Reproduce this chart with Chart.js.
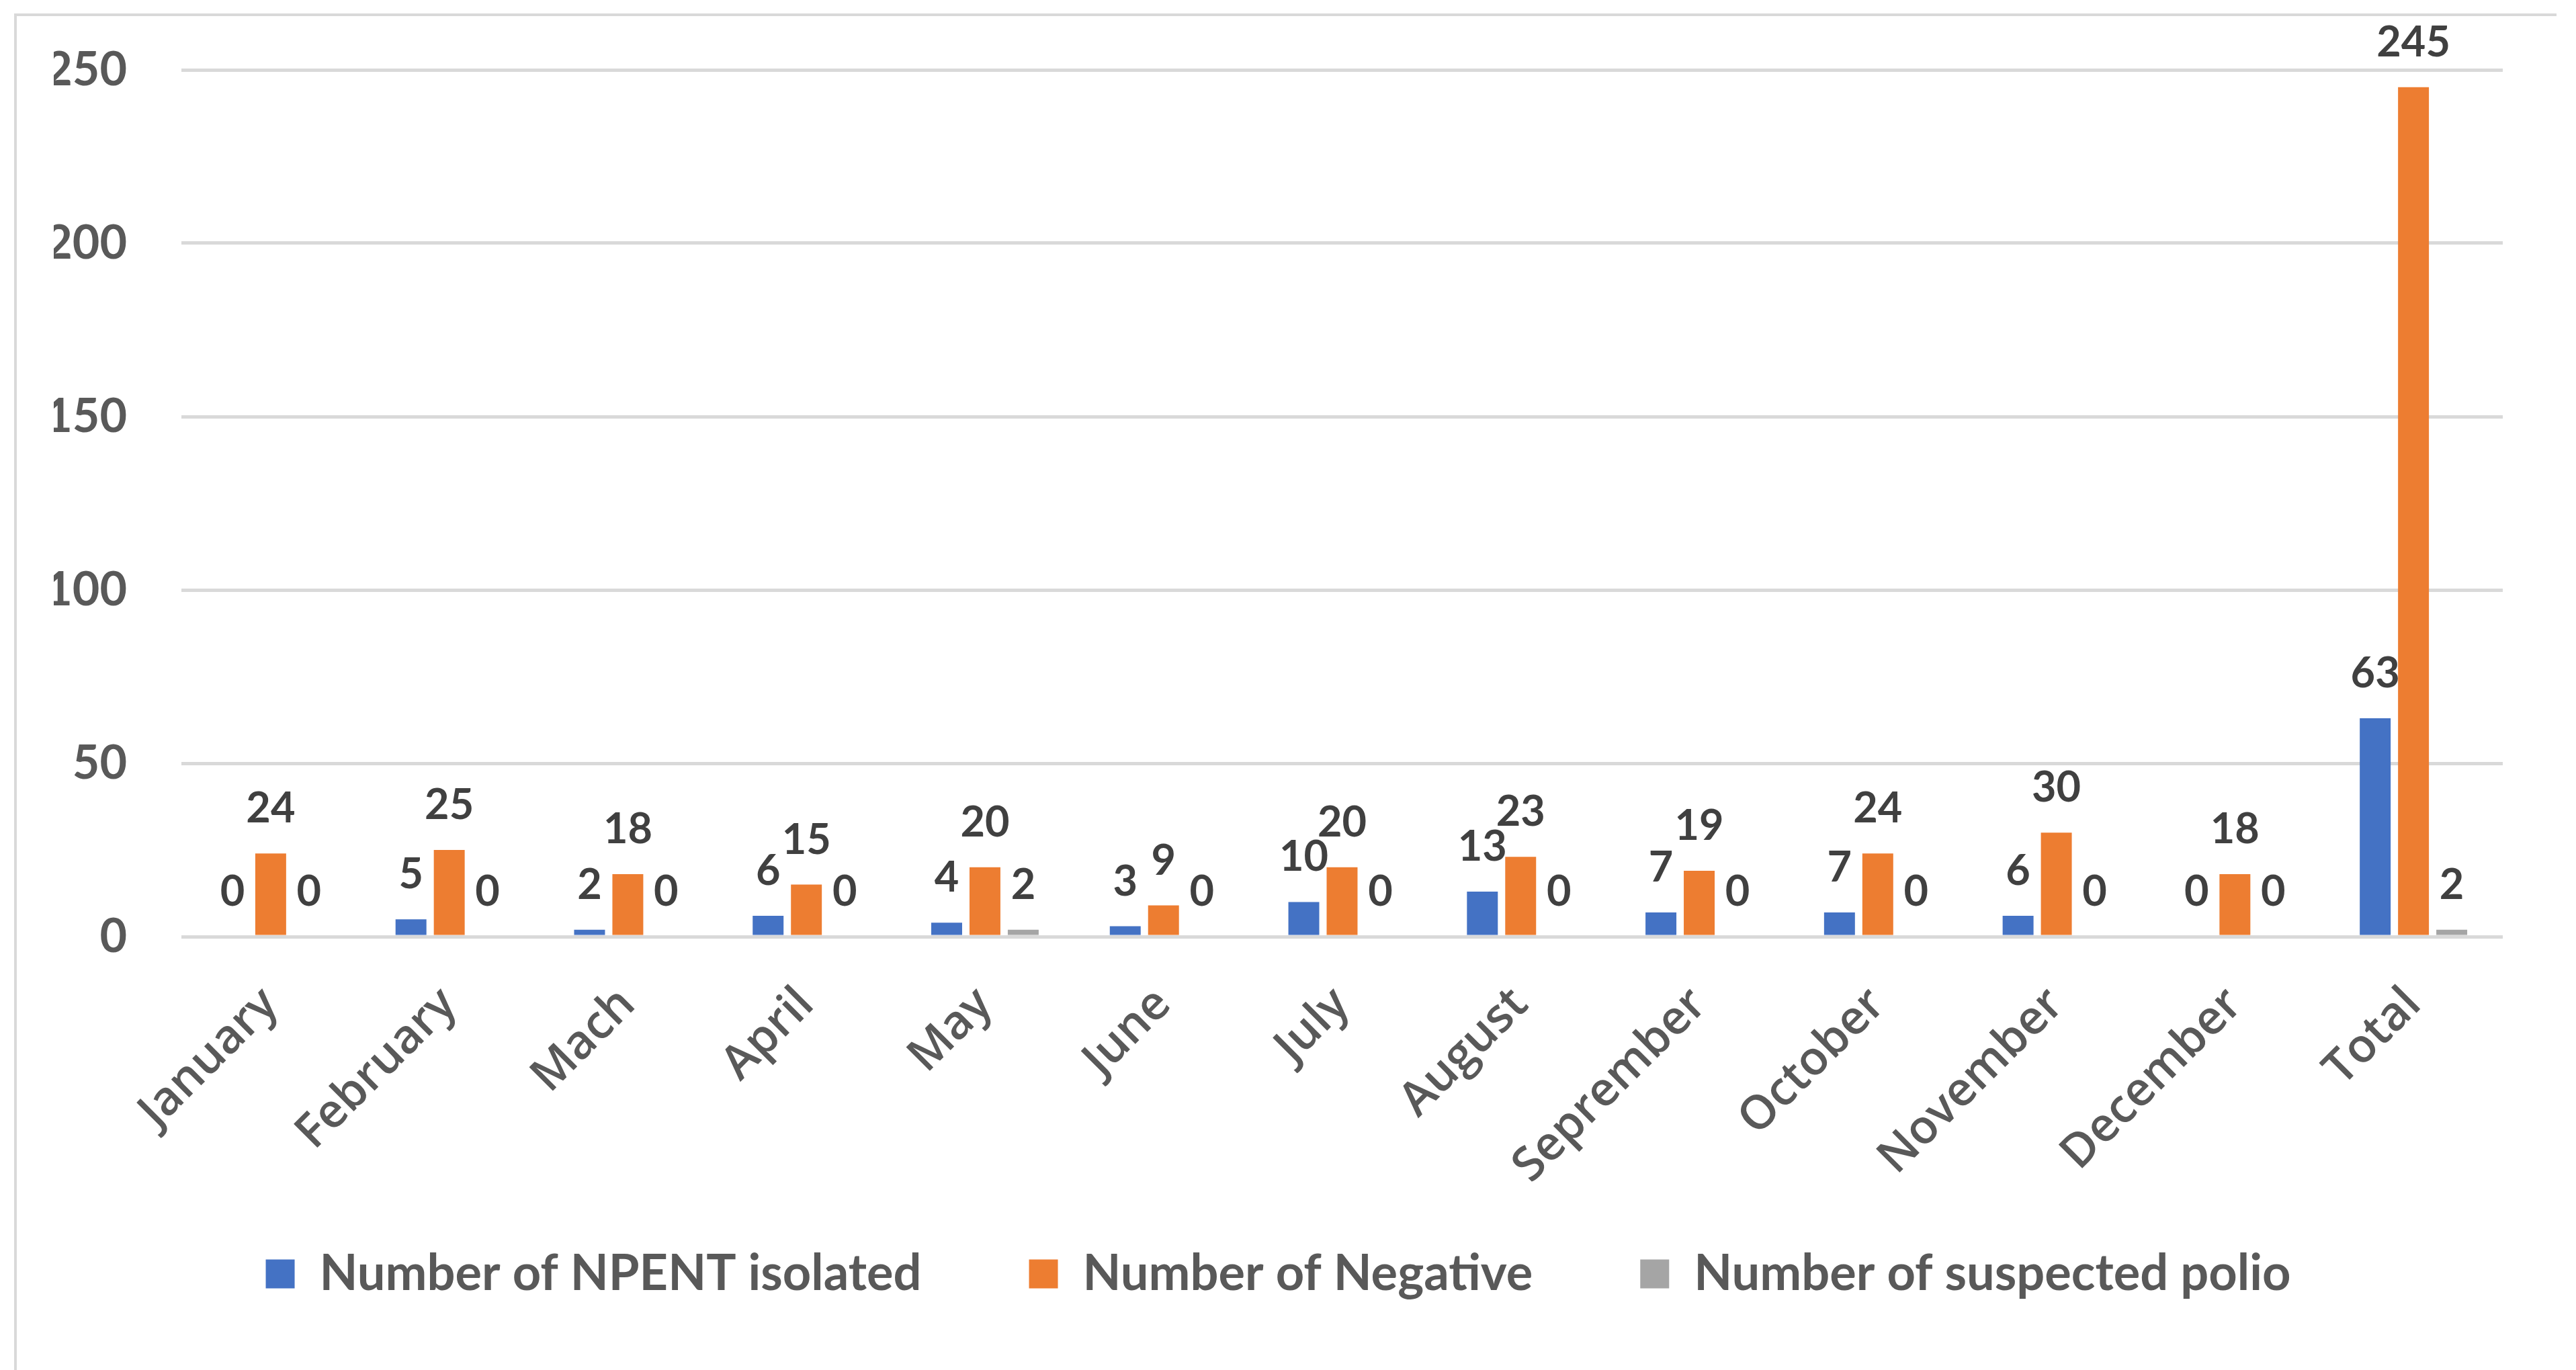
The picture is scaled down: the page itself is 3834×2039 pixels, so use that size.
<!DOCTYPE html>
<html>
<head>
<meta charset="utf-8">
<script src="https://cdn.jsdelivr.net/npm/chart.js@4/dist/chart.umd.min.js"></script>
<style>
  html, body { margin: 0; padding: 0; background: #fff; }
  #wrap { position: relative; width: 3834px; height: 2039px; }
  #frame { position: absolute; left: 21px; top: 20px; width: 3784px; height: 2019px;
           border-left: 4px solid #d9d9d9; border-top: 4px solid #d9d9d9; box-sizing: border-box; }
  canvas { position: absolute; left: 0; top: 0; }
</style>
</head>
<body>
<div id="wrap">
  <div id="frame"></div>
  <canvas id="myChart"></canvas>
</div>
<script>
// Data
const months = ['January', 'February', 'Mach', 'April', 'May', 'June', 'July', 'August', 'Seprember', 'October', 'November', 'December', 'Total'];
const npentIsolated = [0, 5, 2, 6, 4, 3, 10, 13, 7, 7, 6, 0, 63];
const negative = [24, 25, 18, 15, 20, 9, 20, 23, 19, 24, 30, 18, 245];
const suspectedPolio = [0, 0, 0, 0, 2, 0, 0, 0, 0, 0, 0, 0, 2];
const yTicks = [0, 50, 100, 150, 200, 250];

// value labels above each bar
const barLabels = {
  id: 'barLabels',
  afterLayout(chart) {
    // let the rotated month labels run past the axis box (no clipping)
    chart.scales.x.bottom = chart.height;
  },
  afterDatasetsDraw(chart) {
    const ctx = chart.ctx;
    ctx.save();
    ctx.font = 'bold 63px Lato';
    ctx.fillStyle = '#404040';
    ctx.textAlign = 'center';
    ctx.textBaseline = 'alphabetic';
    chart.data.datasets.forEach((ds, i) => {
      chart.getDatasetMeta(i).data.forEach((bar, j) => {
        ctx.fillText(ds.data[j], bar.x, bar.y - 46);
      });
    });
    ctx.restore();
  }
};

const data = {
  labels: months,
  datasets: [
    { label: 'Number of NPENT isolated', data: npentIsolated, backgroundColor: '#4472c4' },
    { label: 'Number of Negative', data: negative, backgroundColor: '#ed7d31' },
    { label: 'Number of suspected polio', data: suspectedPolio, backgroundColor: '#a5a5a5' },
  ],
};

const config = {
  type: 'bar',
  data,
  options: {
    responsive: false,
    animation: false,
    devicePixelRatio: 1,
    categoryPercentage: 0.643,
    barPercentage: 0.807,
    layout: { padding: { left: 80, right: 109, top: 104, bottom: 96 } },
    plugins: {
      tooltip: { enabled: false },
      legend: {
        position: 'bottom',
        labels: {
          boxWidth: 43,
          boxHeight: 43,
          padding: 160,
          color: '#595959',
          font: { family: 'Lato', weight: 'bold', size: 74 },
        },
      },
    },
    scales: {
      x: {
        grid: { display: false, drawTicks: false },
        border: { display: false },
        ticks: {
          maxRotation: 45,
          minRotation: 45,
          padding: 60,
          color: '#595959',
          font: { family: 'Open Sans', weight: '600', size: 70 },
        },
        afterFit(scale) { scale.height = 305; },
      },
      y: {
        min: 0,
        max: 250,
        afterBuildTicks(scale) { scale.ticks = yTicks.map(v => ({ value: v })); },
        grid: { color: '#d9d9d9', lineWidth: 5, drawTicks: false },
        border: { display: false },
        ticks: {
          padding: 81,
          color: '#595959',
          font: { family: 'Lato', weight: 'bold', size: 70 },
        },
        afterFit(scale) {
          scale.width = 190;
          scale.paddingTop = 0;
          scale.paddingBottom = 0;
        },
      },
    },
  },
  plugins: [barLabels],
};

const canvas = document.getElementById('myChart');
canvas.width = 3834;
canvas.height = 2039;
const myChart = new Chart(canvas, config);
</script>
</body>
</html>
